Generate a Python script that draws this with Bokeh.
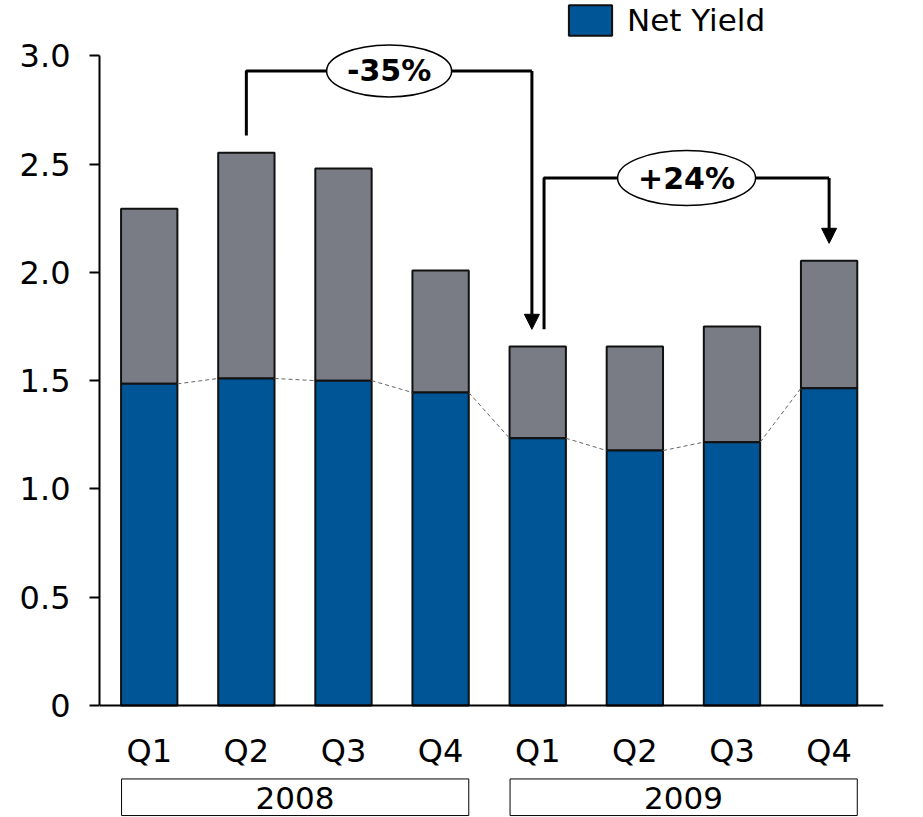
from bokeh.plotting import figure
from bokeh.models import Range1d, FixedTicker, Legend, LegendItem, ColumnDataSource, Arrow, NormalHead
from bokeh.core.properties import value
from bokeh.embed import file_html
from bokeh.resources import INLINE

# ---- data ----
years = ["2008", "2009"]
quarters = ["Q1", "Q2", "Q3", "Q4", "Q1", "Q2", "Q3", "Q4"]
net_yield = [1.485, 1.51, 1.50, 1.445, 1.234, 1.177, 1.216, 1.465]
total_yield = [2.293, 2.552, 2.479, 2.008, 1.657, 1.657, 1.750, 2.054]
y_ticks = [0, 0.5, 1.0, 1.5, 2.0, 2.5, 3.0]
y_tick_labels = ["0", "0.5", "1.0", "1.5", "2.0", "2.5", "3.0"]
change_labels = ["-35%", "+24%"]
change_from = [1, 4]
change_to = [4, 7]

# ---- style ----
FONT = "DejaVu Sans"
BLUE = "#005596"
GRAY = "#797c84"
BAR_W = 0.58
xs = list(range(len(quarters)))

p = figure(width=923, height=817, output_backend="svg", toolbar_location=None,
           x_range=Range1d(-0.512, 7.56), y_range=Range1d(-0.517, 3.255),
           min_border_left=99, min_border_right=40, min_border_top=0, min_border_bottom=0)
p.outline_line_color = None
p.xgrid.visible = False
p.ygrid.visible = False
p.background_fill_color = "white"
p.border_fill_color = "white"

# y axis
ya = p.yaxis[0]
ya.ticker = FixedTicker(ticks=y_ticks)
ya.major_label_overrides = {t: l for t, l in zip(y_ticks, y_tick_labels)}
ya.bounds = (0, 3)
ya.axis_line_width = 2
ya.major_tick_line_width = 2
ya.major_tick_out = 10
ya.major_tick_in = 0
ya.minor_tick_line_color = None
ya.major_label_standoff = 19
ya.major_label_text_font = FONT
ya.major_label_text_font_size = "32px"
ya.major_label_text_color = "black"

# x axis
xa = p.xaxis[0]
xa.fixed_location = 0
xa.ticker = FixedTicker(ticks=xs)
xa.major_label_overrides = {i: q for i, q in zip(xs, quarters)}
xa.axis_line_width = 2
xa.major_tick_line_color = None
xa.minor_tick_line_color = None
xa.major_label_standoff = 20
xa.major_label_text_font = FONT
xa.major_label_text_font_size = "32px"
xa.major_label_text_color = "black"

src = ColumnDataSource(dict(x=xs, net=net_yield, total=total_yield, zero=[0] * len(xs)))

gross_r = p.vbar(x="x", bottom="net", top="total", width=BAR_W, source=src,
                 fill_color=GRAY, line_color="#111111", line_width=2)
net_r = p.vbar(x="x", bottom="zero", top="net", width=BAR_W, source=src,
               fill_color=BLUE, line_color="#111111", line_width=2)

# dashed connectors between net-yield tops
p.segment(x0=[x + BAR_W / 2 for x in xs[:-1]], y0=net_yield[:-1],
          x1=[x - BAR_W / 2 for x in xs[1:]], y1=net_yield[1:],
          line_color="#666666", line_width=1, line_dash="4 3")

# change brackets
gap = 0.08
levels = [2.93, 2.435]
x_off_start = [0.0, 0.065]
x_off_end = [-0.06, 0.0]
ell_w = [125, 138]
ell_h = [52, 55]
for k in range(2):
    xa0 = change_from[k] + x_off_start[k]
    xb = change_to[k] + x_off_end[k]
    y0 = total_yield[change_from[k]] + gap
    y1 = total_yield[change_to[k]] + gap
    lv = levels[k]
    p.line(x=[xa0, xa0, xb], y=[y0, lv, lv], line_color="black", line_width=3)
    p.add_layout(Arrow(x_start=xb, y_start=lv, x_end=xb, y_end=y1, line_width=3, line_color="black",
                       end=NormalHead(size=15, fill_color="black", line_color="black", line_width=1)))
    xm = (xa0 + xb) / 2
    p.ellipse(x=[xm], y=[lv], width=ell_w[k], height=ell_h[k], width_units="screen",
              height_units="screen", fill_color="white", line_color="black", line_width=1.5)
    p.text(x=[xm], y=[lv], text=[change_labels[k]], text_font=value(FONT), text_font_style="bold",
           text_font_size="30px", text_align="center", text_baseline="middle", text_color="black")

# year boxes
yb_left = [-BAR_W / 2 + 0.005, 4 - BAR_W / 2 + 0.005]
yb_right = [3 + BAR_W / 2, 7 + BAR_W / 2]
p.quad(left=yb_left, right=yb_right, bottom=[-0.508] * 2, top=[-0.339] * 2,
       fill_color="white", line_color="black", line_width=1)
p.text(x=[1.5, 5.5], y=[-0.425] * 2, text=years, text_font=value(FONT), text_font_size="31px",
       text_align="center", text_baseline="middle", text_color="black")

legend = Legend(items=[LegendItem(label="Net Yield", renderers=[net_r])],
                location=(464, 778), orientation="vertical",
                label_text_font=FONT, label_text_font_size="31px", label_text_color="black",
                glyph_width=54, glyph_height=38, label_standoff=10, padding=0, spacing=0, margin=0,
                border_line_color=None, background_fill_alpha=0)
p.add_layout(legend)

open("out.html", "w").write(file_html(p, INLINE))
